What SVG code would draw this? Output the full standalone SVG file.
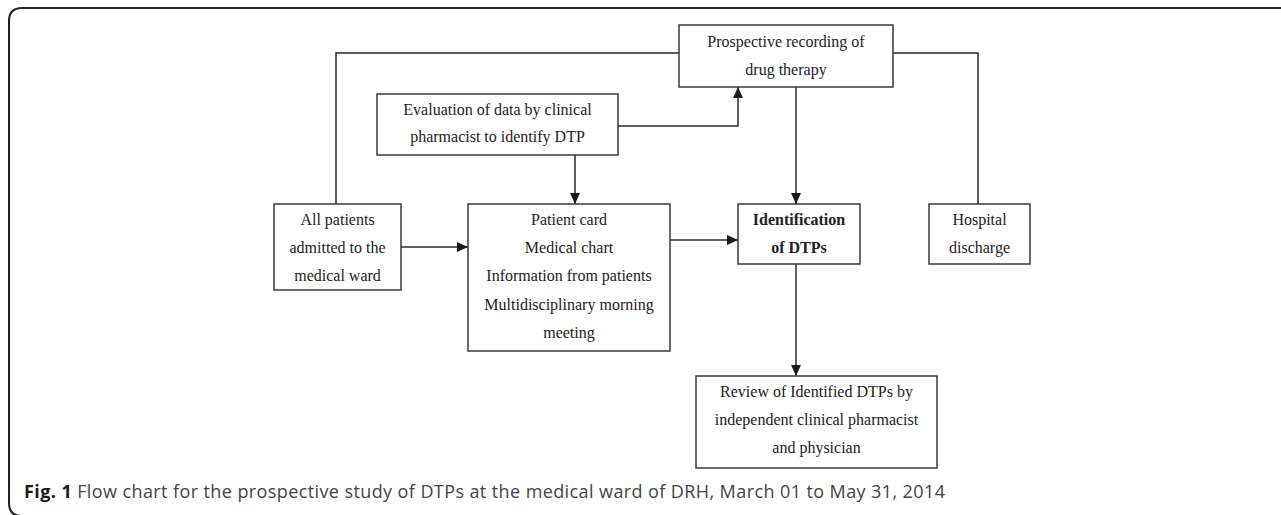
<svg xmlns="http://www.w3.org/2000/svg" width="1281" height="515" viewBox="0 0 1281 515">
  <style>
    .box { fill: #ffffff; stroke: #3a3a3a; stroke-width: 1.5; }
    .t { font-family: "Liberation Serif", "Times New Roman", serif; font-size: 16px; fill: #222; text-anchor: middle; }
    .b { font-weight: bold; }
    .ln { fill: none; stroke: #2a2a2a; stroke-width: 1.5; }
    .cap { font-family: "Open Sans", "Liberation Sans", sans-serif; font-size: 18px; fill: #444; }
  </style>
  <defs>
    <marker id="ah" markerUnits="userSpaceOnUse" markerWidth="12" markerHeight="10" refX="11" refY="5" orient="auto">
      <path d="M0,0 L11,5 L0,10 Z" fill="#1a1a1a"/>
    </marker>
  </defs>
  <rect width="1281" height="515" fill="#ffffff"/>
  <path id="frame" d="M1290,8 H22 Q9,8 9,21 V503 Q9,516 22,516" fill="none" stroke="#222" stroke-width="2"/>

  <g id="connectors">
    <polyline class="ln" points="336,204 336,53 679,53"/>
    <polyline class="ln" points="893,53 978,53 978,204"/>
    <polyline class="ln" points="618,126 738,126 738,87" marker-end="url(#ah)"/>
    <line class="ln" x1="575" y1="155" x2="575" y2="204" marker-end="url(#ah)"/>
    <line class="ln" x1="796" y1="87" x2="796" y2="204" marker-end="url(#ah)"/>
    <line class="ln" x1="401" y1="247" x2="468" y2="247" marker-end="url(#ah)"/>
    <line class="ln" x1="670" y1="240" x2="738" y2="240" marker-end="url(#ah)"/>
    <line class="ln" x1="796" y1="264" x2="796" y2="376" marker-end="url(#ah)"/>
  </g>

  <g id="prospective">
    <rect class="box" x="679" y="25" width="214" height="62"/>
    <text class="t" x="786" y="47">Prospective recording of</text>
    <text class="t" x="786" y="75">drug therapy</text>
  </g>
  <g id="evaluation">
    <rect class="box" x="377" y="94" width="241" height="61"/>
    <text class="t" x="497.5" y="115">Evaluation of data by clinical</text>
    <text class="t" x="497.5" y="142">pharmacist to identify DTP</text>
  </g>
  <g id="allpatients">
    <rect class="box" x="274" y="204" width="127" height="86"/>
    <text class="t" x="337.5" y="225">All patients</text>
    <text class="t" x="337.5" y="253">admitted to the</text>
    <text class="t" x="337.5" y="281">medical ward</text>
  </g>
  <g id="sources">
    <rect class="box" x="468" y="204" width="202" height="147"/>
    <text class="t" x="569" y="225">Patient card</text>
    <text class="t" x="569" y="253">Medical chart</text>
    <text class="t" x="569" y="281">Information from patients</text>
    <text class="t" x="569" y="310">Multidisciplinary morning</text>
    <text class="t" x="569" y="338">meeting</text>
  </g>
  <g id="identification">
    <rect class="box" x="738" y="204" width="122" height="60"/>
    <text class="t b" x="799" y="225">Identification</text>
    <text class="t b" x="799" y="253">of DTPs</text>
  </g>
  <g id="discharge">
    <rect class="box" x="929" y="204" width="101" height="60"/>
    <text class="t" x="979.5" y="225">Hospital</text>
    <text class="t" x="979.5" y="253">discharge</text>
  </g>
  <g id="review">
    <rect class="box" x="696" y="376" width="241" height="92"/>
    <text class="t" x="816.5" y="397">Review of Identified DTPs by</text>
    <text class="t" x="816.5" y="425">independent clinical pharmacist</text>
    <text class="t" x="816.5" y="453">and physician</text>
  </g>

  <text id="caption" class="cap" x="24" y="498" textLength="921" lengthAdjust="spacing"><tspan font-weight="bold" fill="#1a1a1a">Fig. 1</tspan> Flow chart for the prospective study of DTPs at the medical ward of DRH, March 01 to May 31, 2014</text>
</svg>
